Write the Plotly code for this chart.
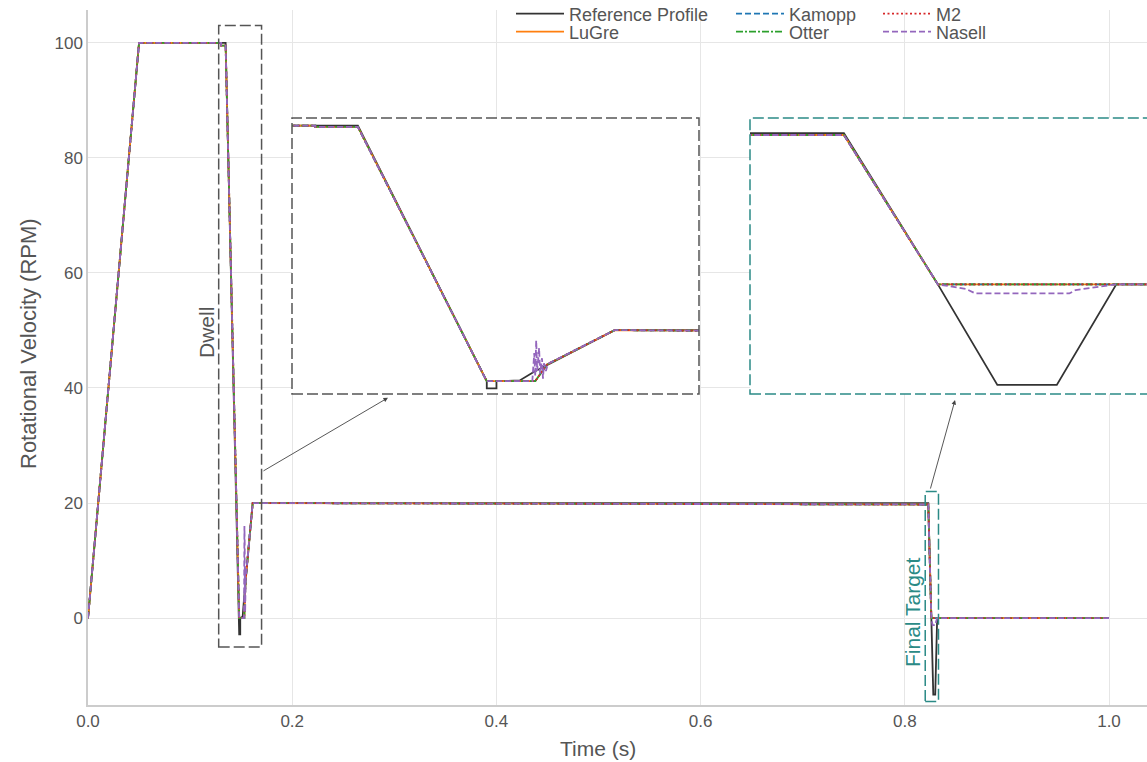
import plotly.graph_objects as go

# ---------------- data ----------------
t_ref = [0, 0.05, 0.1348, 0.1481, 0.1481, 0.1491, 0.1491, 0.1515, 0.1529, 0.1613,
         0.8230, 0.8260, 0.8279, 0.8298, 0.8317, 1.0]
v_ref = [0, 100, 100, 0, -2.8, -2.8, 0, 0.3, 3.5, 20,
         20, 0, -13.3, -13.3, 0, 0]

t_mdl = [0, 0.05, 0.1304, 0.1304, 0.1348, 0.1481, 0.1531, 0.1543, 0.1613, 0.8230, 0.8260, 1.0]
v_mdl = [0, 100, 100, 99.5, 99.5, 0, 0, 6.5, 20, 19.75, 0, 0]

t_nas = [0, 0.05, 0.1304, 0.1304, 0.1348, 0.1481, 0.1528, 0.1530, 0.1531, 0.1532, 0.1533,
         0.1535, 0.1536, 0.1538, 0.1539, 0.1540, 0.1542, 0.1544, 0.1613,
         0.8230, 0.8260, 0.8269, 0.8272, 0.8302, 0.8304, 0.8317, 1.0]
v_nas = [0, 100, 100, 99.5, 99.5, 0, 0, 11, 2, 16, 4,
         13, 3, 9, 1, 7, 4, 6.8, 20,
         19.75, 0, -0.6, -1.2, -1.2, -0.75, 0, 0]

series_names = ["Reference Profile", "LuGre", "Kamopp", "Otter", "M2", "Nasell"]
x_ticks = [0.0, 0.2, 0.4, 0.6, 0.8, 1.0]
y_ticks = [0, 20, 40, 60, 80, 100]

dwell_box = [0.128, 0.170, -5, 103]
final_box = [0.820, 0.833, -14.5, 22]

# ---------------- styles ----------------
FONT = "Liberation Sans, Arial, sans-serif"
TEAL = "#2b8a86"
GRAY = "#555555"

styles = {
    "Reference Profile": dict(color="#333333", dash="solid", t=t_ref, v=v_ref),
    "LuGre": dict(color="#ff7f0e", dash="solid", t=t_mdl, v=v_mdl),
    "Kamopp": dict(color="#1f77b4", dash="6px,3px", t=t_mdl, v=v_mdl),
    "Otter": dict(color="#2ca02c", dash="7px,2px,2px,2px", t=t_mdl, v=v_mdl),
    "M2": dict(color="#d62728", dash="2px,2.5px", t=t_mdl, v=v_mdl),
    "Nasell": dict(color="#9467bd", dash="6px,3px", t=t_nas, v=v_nas),
}
# legend slot: (sample start px, row center px)
legend_slots = {
    "Reference Profile": ("legend", 518, 14),
    "LuGre": ("legend2", 518, 32),
    "Kamopp": ("legend3", 738, 14),
    "Otter": ("legend4", 738, 32),
    "M2": ("legend5", 885, 14),
    "Nasell": ("legend6", 885, 32),
}

W, H = 1147, 762
ml, mr, mt, mb = 88, 0, 10, 57
pw, ph = W - ml - mr, H - mt - mb
px_per_t = 1021.0
x_max = pw / px_per_t


def px_x(p):
    return (p - ml) / pw


def px_y(p):
    return (H - mb - p) / ph


fig = go.Figure()
for ax_x, ax_y, show in [("x", "y", True), ("x2", "y2", False), ("x3", "y3", False)]:
    for name in series_names:
        s = styles[name]
        fig.add_trace(go.Scatter(
            x=s["t"], y=s["v"], mode="lines", name=name,
            line=dict(color=s["color"], width=1.8, dash=s["dash"]),
            xaxis=ax_x, yaxis=ax_y, showlegend=show, legend=legend_slots[name][0],
            hoverinfo="skip"))

# inset domains
in1_x = [px_x(292), px_x(699)]
in1_y = [px_y(394), px_y(118)]
in2_x = [px_x(750), 1.0]
in2_y = [px_y(394), px_y(118)]
in2_range_end = final_box[0] + (final_box[1] - final_box[0]) * (1147 - 750) / 407.0

axis_common = dict(showgrid=False, zeroline=False, showticklabels=False, ticks="",
                   showline=False)

fig.update_layout(
    width=W, height=H,
    margin=dict(l=ml, r=mr, t=mt, b=mb, autoexpand=False),
    paper_bgcolor="white", plot_bgcolor="white",
    font=dict(family=FONT, size=17, color=GRAY),
    xaxis=dict(range=[0, x_max], tickvals=x_ticks, ticktext=[f"{v:.1f}" for v in x_ticks],
               showgrid=True, gridcolor="#e6e6e6", gridwidth=1, zeroline=False,
               showline=True, linecolor="#cccccc", linewidth=1.5, ticks="",
               tickfont=dict(size=17, color=GRAY), automargin=False),
    yaxis=dict(range=[-15.1, 105.7], tickvals=y_ticks,
               showgrid=True, gridcolor="#e6e6e6", gridwidth=1, zeroline=False,
               showline=True, linecolor="#cccccc", linewidth=1.5, ticks="",
               tickfont=dict(size=17, color=GRAY), automargin=False),
    xaxis2=dict(domain=in1_x, range=dwell_box[0:2], anchor="y2", **axis_common),
    yaxis2=dict(domain=in1_y, range=dwell_box[2:4], anchor="x2", **axis_common),
    xaxis3=dict(domain=in2_x, range=[final_box[0], in2_range_end], anchor="y3", **axis_common),
    yaxis3=dict(domain=in2_y, range=final_box[2:4], anchor="x3", **axis_common),
    showlegend=True,
)

legends = {}
for name in series_names:
    key, sx, ry = legend_slots[name]
    legends[key] = dict(orientation="v", yanchor="middle", xanchor="left",
                        x=px_x(sx - 7), y=px_y(ry), itemwidth=48,
                        bgcolor="rgba(0,0,0,0)", borderwidth=0,
                        font=dict(size=18, color=GRAY, family=FONT),
                        itemclick=False, itemdoubleclick=False)
fig.update_layout(**legends)

# white backgrounds for the insets
for xr, yr in [("x2 domain", "y2 domain"), ("x3 domain", "y3 domain")]:
    fig.add_shape(type="rect", xref=xr, yref=yr, x0=0, x1=1, y0=0, y1=1,
                  fillcolor="white", line=dict(width=0), layer="below")

# inset borders
fig.add_shape(type="rect", xref="x2 domain", yref="y2 domain", x0=0, x1=1, y0=0, y1=1,
              line=dict(color=GRAY, width=1.5, dash="11px,4px"), layer="above")
fig.add_shape(type="rect", xref="x3 domain", yref="y3 domain", x0=0, x1=1.03, y0=0, y1=1,
              line=dict(color=TEAL, width=1.5, dash="11px,4px"), layer="above")

# zoom boxes on the main axes
fig.add_shape(type="rect", xref="x", yref="y", x0=dwell_box[0], x1=dwell_box[1],
              y0=dwell_box[2], y1=dwell_box[3],
              line=dict(color=GRAY, width=1.5, dash="11px,4px"), layer="above")
fig.add_shape(type="rect", xref="x", yref="y", x0=final_box[0], x1=final_box[1],
              y0=final_box[2], y1=final_box[3],
              line=dict(color=TEAL, width=1.5, dash="11px,4px"), layer="above")

# connector arrows
fig.add_annotation(x=0.2938, y=38.3, xref="x", yref="y", ax=-126, ay=74, text="",
                   showarrow=True, arrowhead=2, arrowsize=1, arrowwidth=0.9,
                   arrowcolor="#444444")
fig.add_annotation(x=0.8492, y=37.9, xref="x", yref="y", ax=-25, ay=90, text="",
                   showarrow=True, arrowhead=2, arrowsize=1, arrowwidth=0.9,
                   arrowcolor="#444444")

# labels
fig.add_annotation(x=px_x(207), y=px_y(333), xref="paper", yref="paper", text="Dwell",
                   textangle=-90, showarrow=False, xanchor="center", yanchor="middle",
                   font=dict(size=21, color=GRAY, family=FONT))
fig.add_annotation(x=px_x(912), y=px_y(612), xref="paper", yref="paper", text="Final Target",
                   textangle=-90, showarrow=False, xanchor="center", yanchor="middle",
                   font=dict(size=21, color=TEAL, family=FONT))

# axis titles
fig.add_annotation(x=px_x(598), y=px_y(748), xref="paper", yref="paper", text="Time (s)",
                   showarrow=False, xanchor="center", yanchor="middle",
                   font=dict(size=21, color=GRAY, family=FONT))
fig.add_annotation(x=px_x(28), y=px_y(344), xref="paper", yref="paper",
                   text="Rotational Velocity (RPM)", textangle=-90,
                   showarrow=False, xanchor="center", yanchor="middle",
                   font=dict(size=22, color=GRAY, family=FONT))

fig.write_html("out.html", config={"displayModeBar": False},
               post_script="document.body.style.margin='0px';")
